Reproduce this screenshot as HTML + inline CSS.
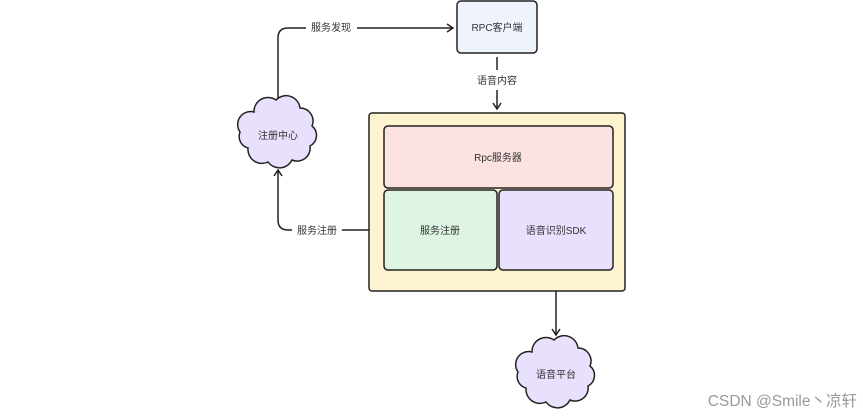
<!DOCTYPE html>
<html><head><meta charset="utf-8"><style>
body{margin:0;background:#fff;}
svg text{font-family:"Liberation Sans","Noto Sans CJK SC",sans-serif;font-size:10px;fill:#333;}
</style></head><body>
<svg width="863" height="415" viewBox="0 0 863 415" xmlns="http://www.w3.org/2000/svg">
<defs>
<marker id="a" markerWidth="10" markerHeight="10" refX="8" refY="5" orient="auto" markerUnits="userSpaceOnUse">
<path d="M2,1 L8,5 L2,9" fill="none" stroke="#222" stroke-width="1.5"/></marker>
</defs>
<g stroke="#222" stroke-width="1.5" fill="none">
<path d="M278,98 V38 Q278,28 288,28 H306"/>
<path d="M357,28 H453" marker-end="url(#a)"/>
<path d="M497,57 V70"/>
<path d="M497,90 V109" marker-end="url(#a)"/>
<path d="M380,230 H342"/>
<path d="M292,230 H288 Q278,230 278,220 V170" marker-end="url(#a)"/>
<path d="M556,274 V335" marker-end="url(#a)"/>
</g>
<rect x="457" y="1" width="80" height="52" rx="4" fill="#eef3fc" stroke="#222" stroke-width="1.5"/>
<text x="497" y="31" text-anchor="middle">RPC客户端</text>
<text x="331" y="31" text-anchor="middle">服务发现</text>
<text x="497" y="84" text-anchor="middle">语音内容</text>
<text x="317" y="234" text-anchor="middle">服务注册</text>
<rect x="369" y="113" width="256" height="178" rx="3" fill="#fdf3cf" stroke="#222" stroke-width="1.5"/>
<rect x="384" y="126" width="229" height="62" rx="4" fill="#fde2e2" stroke="#222" stroke-width="1.5"/>
<text x="498" y="161" text-anchor="middle">Rpc服务器</text>
<rect x="384" y="190" width="113" height="80" rx="4" fill="#dff5e3" stroke="#222" stroke-width="1.5"/>
<text x="440" y="234" text-anchor="middle">服务注册</text>
<rect x="499" y="190" width="114" height="80" rx="4" fill="#e8e0fc" stroke="#222" stroke-width="1.5"/>
<text x="556" y="234" text-anchor="middle">语音识别SDK</text>
<g fill="#e8e0fc" stroke="#222" stroke-width="1.5">
<path transform="translate(278,132)" d="M-24,-20 A14,14 0 0 1 -2,-32 A14,14 0 0 1 22,-24 A13,13 0 0 1 34,-6 A12,12 0 0 1 32,14 A13,13 0 0 1 14,28 A14,14 0 0 1 -10,30 A14,14 0 0 1 -30,16 A12,12 0 0 1 -38,0 A13,13 0 0 1 -24,-20 Z"/>
<path transform="translate(556,372)" d="M-24,-20 A14,14 0 0 1 -2,-32 A14,14 0 0 1 22,-24 A13,13 0 0 1 34,-6 A12,12 0 0 1 32,14 A13,13 0 0 1 14,28 A14,14 0 0 1 -10,30 A14,14 0 0 1 -30,16 A12,12 0 0 1 -38,0 A13,13 0 0 1 -24,-20 Z"/>
</g>
<text x="278" y="139" text-anchor="middle">注册中心</text>
<text x="556" y="378" text-anchor="middle">语音平台</text>
<text x="857" y="406" text-anchor="end" style="font-size:15.5px;fill:#999;">CSDN @Smile丶凉轩</text>
</svg>
</body></html>
